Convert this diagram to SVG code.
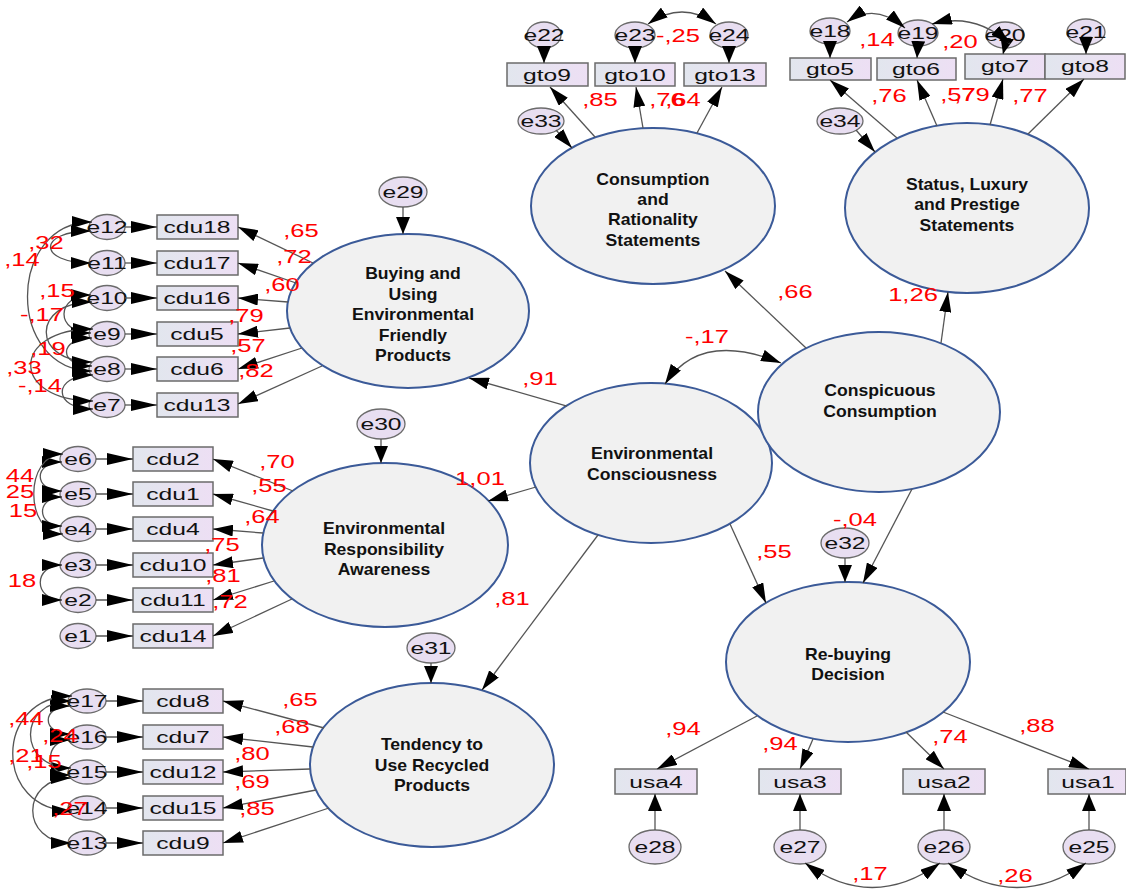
<svg xmlns="http://www.w3.org/2000/svg" width="1126" height="892" viewBox="0 0 1126 892">
<defs>
<linearGradient id="rg" x1="0" y1="0" x2="1" y2="0"><stop offset="0" stop-color="#e2e6ee"/><stop offset="1" stop-color="#eddff4"/></linearGradient>
<marker id="mh" markerUnits="userSpaceOnUse" viewBox="0 0 26 12" refX="26" refY="6" markerWidth="26" markerHeight="12" orient="auto-start-reverse"><path d="M0,0 L26,6 L0,12 z" fill="#000"/></marker>
<marker id="md" markerUnits="userSpaceOnUse" viewBox="0 0 20 12" refX="20" refY="6" markerWidth="20" markerHeight="12" orient="auto-start-reverse"><path d="M0,0 L20,6 L0,12 z" fill="#000"/></marker>
<marker id="mv" markerUnits="userSpaceOnUse" viewBox="0 0 17 14" refX="17" refY="7" markerWidth="17" markerHeight="14" orient="auto-start-reverse"><path d="M0,0 L17,7 L0,14 z" fill="#000"/></marker>
</defs>
<style>
.lat{fill:#f1f1f1;stroke:#3b5a98;stroke-width:2}
.obs{fill:url(#rg);stroke:#6b6b6b;stroke-width:1.5}
.err{fill:#e8def1;stroke:#6b6b6b;stroke-width:1.3}
.c{fill:none;stroke:#555;stroke-width:1.3}
.h{marker-end:url(#mh)}
.d{marker-end:url(#md)}
.v{marker-end:url(#mv)}
.bi{marker-start:url(#md);marker-end:url(#md)}
.t{font-family:"Liberation Sans",Arial,sans-serif;font-size:17px;fill:#111;text-anchor:middle;transform-box:fill-box;transform-origin:center;transform:scaleX(1.45)}
.r{font-family:"Liberation Sans",Arial,sans-serif;font-size:18px;fill:#ff0000;text-anchor:middle;transform-box:fill-box;transform-origin:center;transform:scaleX(1.42)}
.b{font-family:"Liberation Sans",Arial,sans-serif;font-size:16px;font-weight:bold;fill:#111;text-anchor:middle;transform-box:fill-box;transform-origin:center;transform:scaleX(1.1)}
</style>
<rect width="1126" height="892" fill="#fff"/>

<!-- latent variables -->
<g id="consumption-rationality"><ellipse class="lat" cx="653" cy="206" rx="122" ry="78"/><text class="b" x="653" y="185">Consumption</text><text class="b" x="653" y="205">and</text><text class="b" x="653" y="225">Rationality</text><text class="b" x="653" y="246">Statements</text></g>
<g id="status-luxury"><ellipse class="lat" cx="967" cy="208" rx="122" ry="85"/><text class="b" x="967" y="190">Status, Luxury</text><text class="b" x="967" y="210">and Prestige</text><text class="b" x="967" y="231">Statements</text></g>
<g id="buying-using"><ellipse class="lat" cx="408" cy="311" rx="121" ry="77"/><text class="b" x="413" y="279">Buying and</text><text class="b" x="413" y="300">Using</text><text class="b" x="413" y="320">Environmental</text><text class="b" x="413" y="341">Friendly</text><text class="b" x="413" y="361">Products</text></g>
<g id="env-consciousness"><ellipse class="lat" cx="651" cy="463" rx="121" ry="80"/><text class="b" x="652" y="459">Environmental</text><text class="b" x="652" y="480">Consciousness</text></g>
<g id="conspicuous"><ellipse class="lat" cx="879" cy="412" rx="121" ry="80"/><text class="b" x="880" y="396">Conspicuous</text><text class="b" x="880" y="417">Consumption</text></g>
<g id="env-responsibility"><ellipse class="lat" cx="385" cy="545" rx="123" ry="82"/><text class="b" x="384" y="534">Environmental</text><text class="b" x="384" y="555">Responsibility</text><text class="b" x="384" y="575">Awareness</text></g>
<g id="recycled"><ellipse class="lat" cx="432" cy="765" rx="122" ry="82"/><text class="b" x="432" y="750">Tendency to</text><text class="b" x="432" y="771">Use Recycled</text><text class="b" x="432" y="791">Products</text></g>
<g id="rebuying"><ellipse class="lat" cx="848" cy="662" rx="122" ry="80"/><text class="b" x="848" y="660">Re-buying</text><text class="b" x="848" y="680">Decision</text></g>

<!-- observed variables -->
<g id="gto9"><rect class="obs" x="507" y="63" width="81" height="23"/><text class="t" x="547" y="81">gto9</text></g>
<g id="gto10"><rect class="obs" x="595" y="63" width="80" height="23"/><text class="t" x="635" y="81">gto10</text></g>
<g id="gto13"><rect class="obs" x="684" y="63" width="82" height="23"/><text class="t" x="725" y="81">gto13</text></g>
<g id="gto5"><rect class="obs" x="790" y="58" width="81" height="22"/><text class="t" x="830" y="75">gto5</text></g>
<g id="gto6"><rect class="obs" x="877" y="58" width="79" height="22"/><text class="t" x="916" y="75">gto6</text></g>
<g id="gto7"><rect class="obs" x="965" y="54" width="80" height="25"/><text class="t" x="1005" y="72">gto7</text></g>
<g id="gto8"><rect class="obs" x="1045" y="54" width="80" height="25"/><text class="t" x="1085" y="72">gto8</text></g>

<g id="cdu18"><rect class="obs" x="157" y="215" width="81" height="24"/><text class="t" x="197" y="233">cdu18</text></g>
<g id="cdu17"><rect class="obs" x="157" y="251" width="81" height="24"/><text class="t" x="197" y="269">cdu17</text></g>
<g id="cdu16"><rect class="obs" x="157" y="286" width="81" height="24"/><text class="t" x="197" y="304">cdu16</text></g>
<g id="cdu5"><rect class="obs" x="157" y="322" width="81" height="24"/><text class="t" x="197" y="340">cdu5</text></g>
<g id="cdu6"><rect class="obs" x="157" y="357" width="81" height="24"/><text class="t" x="197" y="375">cdu6</text></g>
<g id="cdu13"><rect class="obs" x="157" y="393" width="81" height="24"/><text class="t" x="197" y="411">cdu13</text></g>

<g id="cdu2"><rect class="obs" x="133" y="447" width="80" height="24"/><text class="t" x="173" y="465">cdu2</text></g>
<g id="cdu1"><rect class="obs" x="133" y="482" width="80" height="24"/><text class="t" x="173" y="500">cdu1</text></g>
<g id="cdu4"><rect class="obs" x="133" y="517" width="80" height="24"/><text class="t" x="173" y="535">cdu4</text></g>
<g id="cdu10"><rect class="obs" x="133" y="553" width="80" height="24"/><text class="t" x="173" y="571">cdu10</text></g>
<g id="cdu11"><rect class="obs" x="133" y="588" width="80" height="24"/><text class="t" x="173" y="606">cdu11</text></g>
<g id="cdu14"><rect class="obs" x="133" y="624" width="80" height="24"/><text class="t" x="173" y="642">cdu14</text></g>

<g id="cdu8"><rect class="obs" x="143" y="689" width="80" height="24"/><text class="t" x="183" y="707">cdu8</text></g>
<g id="cdu7"><rect class="obs" x="143" y="725" width="80" height="24"/><text class="t" x="183" y="743">cdu7</text></g>
<g id="cdu12"><rect class="obs" x="143" y="760" width="80" height="24"/><text class="t" x="183" y="778">cdu12</text></g>
<g id="cdu15"><rect class="obs" x="143" y="796" width="80" height="24"/><text class="t" x="183" y="814">cdu15</text></g>
<g id="cdu9"><rect class="obs" x="143" y="831" width="80" height="24"/><text class="t" x="183" y="849">cdu9</text></g>

<g id="usa4"><rect class="obs" x="615" y="769" width="82" height="25"/><text class="t" x="656" y="788">usa4</text></g>
<g id="usa3"><rect class="obs" x="759" y="769" width="82" height="25"/><text class="t" x="800" y="788">usa3</text></g>
<g id="usa2"><rect class="obs" x="903" y="769" width="82" height="25"/><text class="t" x="944" y="788">usa2</text></g>
<g id="usa1"><rect class="obs" x="1048" y="769" width="78" height="25"/><text class="t" x="1088" y="788">usa1</text></g>

<!-- error terms -->
<g id="e22"><ellipse class="err" cx="544" cy="35" rx="17" ry="13"/><text class="t" x="544" y="41">e22</text></g>
<g id="e23"><ellipse class="err" cx="635" cy="35" rx="20" ry="13"/><text class="t" x="635" y="41">e23</text></g>
<g id="e24"><ellipse class="err" cx="729" cy="35" rx="19" ry="13"/><text class="t" x="729" y="41">e24</text></g>
<g id="e18"><ellipse class="err" cx="830" cy="31" rx="20" ry="13"/><text class="t" x="830" y="37">e18</text></g>
<g id="e19"><ellipse class="err" cx="918" cy="33" rx="20" ry="13"/><text class="t" x="918" y="39">e19</text></g>
<g id="e20"><ellipse class="err" cx="1005" cy="35" rx="19" ry="13"/><text class="t" x="1005" y="41">e20</text></g>
<g id="e21"><ellipse class="err" cx="1086" cy="32" rx="19" ry="13"/><text class="t" x="1086" y="38">e21</text></g>
<g id="e33"><ellipse class="err" cx="541" cy="121" rx="23" ry="13"/><text class="t" x="541" y="127">e33</text></g>
<g id="e34"><ellipse class="err" cx="840" cy="121" rx="23" ry="13"/><text class="t" x="840" y="127">e34</text></g>
<g id="e29"><ellipse class="err" cx="403" cy="192" rx="24" ry="15"/><text class="t" x="403" y="198">e29</text></g>
<g id="e30"><ellipse class="err" cx="381" cy="424" rx="24" ry="15"/><text class="t" x="381" y="430">e30</text></g>
<g id="e31"><ellipse class="err" cx="431" cy="648" rx="24" ry="15"/><text class="t" x="431" y="654">e31</text></g>
<g id="e32"><ellipse class="err" cx="845" cy="543" rx="24" ry="15"/><text class="t" x="845" y="549">e32</text></g>

<g id="e12"><ellipse class="err" cx="107" cy="227" rx="18" ry="12.5"/><text class="t" x="107" y="233">e12</text></g>
<g id="e11"><ellipse class="err" cx="107" cy="263" rx="18" ry="12.5"/><text class="t" x="107" y="269">e11</text></g>
<g id="e10"><ellipse class="err" cx="107" cy="298" rx="18" ry="12.5"/><text class="t" x="107" y="304">e10</text></g>
<g id="e9"><ellipse class="err" cx="107" cy="334" rx="18" ry="12.5"/><text class="t" x="107" y="340">e9</text></g>
<g id="e8"><ellipse class="err" cx="107" cy="369" rx="18" ry="12.5"/><text class="t" x="107" y="375">e8</text></g>
<g id="e7"><ellipse class="err" cx="107" cy="405" rx="18" ry="12.5"/><text class="t" x="107" y="411">e7</text></g>

<g id="e6"><ellipse class="err" cx="78" cy="459" rx="18" ry="12.5"/><text class="t" x="78" y="465">e6</text></g>
<g id="e5"><ellipse class="err" cx="78" cy="494" rx="18" ry="12.5"/><text class="t" x="78" y="500">e5</text></g>
<g id="e4"><ellipse class="err" cx="78" cy="529" rx="18" ry="12.5"/><text class="t" x="78" y="535">e4</text></g>
<g id="e3"><ellipse class="err" cx="78" cy="565" rx="18" ry="12.5"/><text class="t" x="78" y="571">e3</text></g>
<g id="e2"><ellipse class="err" cx="78" cy="600" rx="18" ry="12.5"/><text class="t" x="78" y="606">e2</text></g>
<g id="e1"><ellipse class="err" cx="78" cy="636" rx="18" ry="12.5"/><text class="t" x="78" y="642">e1</text></g>

<g id="e17"><ellipse class="err" cx="87" cy="701" rx="19" ry="12"/><text class="t" x="87" y="707">e17</text></g>
<g id="e16"><ellipse class="err" cx="87" cy="737" rx="19" ry="12"/><text class="t" x="87" y="743">e16</text></g>
<g id="e15"><ellipse class="err" cx="87" cy="772" rx="19" ry="12"/><text class="t" x="87" y="778">e15</text></g>
<g id="e14"><ellipse class="err" cx="87" cy="808" rx="19" ry="12"/><text class="t" x="87" y="814">e14</text></g>
<g id="e13"><ellipse class="err" cx="87" cy="843" rx="19" ry="12"/><text class="t" x="87" y="849">e13</text></g>

<g id="e28"><ellipse class="err" cx="655" cy="847" rx="26" ry="17"/><text class="t" x="655" y="853">e28</text></g>
<g id="e27"><ellipse class="err" cx="800" cy="847" rx="26" ry="17"/><text class="t" x="800" y="853">e27</text></g>
<g id="e26"><ellipse class="err" cx="944" cy="847" rx="26" ry="17"/><text class="t" x="944" y="853">e26</text></g>
<g id="e25"><ellipse class="err" cx="1089" cy="847" rx="26" ry="17"/><text class="t" x="1089" y="853">e25</text></g>

<!-- connectors -->
<g id="connectors">
<path class="c d" d="M595,137 L550,87"/>
<path class="c d" d="M643,128 L636,87"/>
<path class="c d" d="M697,133 L722,87"/>
<path class="c d" d="M897,138 L830,80"/>
<path class="c d" d="M937,126 L917,80"/>
<path class="c d" d="M990,125 L1003,79"/>
<path class="c d" d="M1028,134 L1084,79"/>
<path class="c d" d="M556,130 L572,148"/>
<path class="c d" d="M856,130 L875,152"/>
<path class="c v" d="M544,46 L544,63"/>
<path class="c v" d="M635,46 L635,63"/>
<path class="c v" d="M729,46 L729,63"/>
<path class="c v" d="M830,42 L830,58"/>
<path class="c v" d="M918,44 L917,58"/>
<path class="c v" d="M1005,46 L1003,54"/>
<path class="c v" d="M1086,43 L1086,54"/>
<path class="c bi" d="M648,24 Q682,0 716,24"/>
<path class="c bi" d="M847,22 Q875,2 905,28"/>
<path class="c bi" d="M932,24 Q975,12 1010,44"/>

<path class="c d" d="M806,348 L725,271"/>
<path class="c d" d="M941,343 L948,292"/>
<path class="c d" d="M567,406 L469,378"/>
<path class="c d" d="M536,487 L488,501"/>
<path class="c d" d="M598,535 L482,690"/>
<path class="c d" d="M730,524 L766,603"/>
<path class="c d" d="M912,489 L863,583"/>
<path class="c bi" d="M665,384 Q700,330 781,363"/>
<path class="c v" d="M845,558 L845,582"/>
<path class="c v" d="M403,207 L403,234"/>
<path class="c v" d="M381,439 L381,463"/>
<path class="c v" d="M431,663 L431,683"/>

<path class="c d" d="M313,263 L238,227"/>
<path class="c d" d="M296,283 L238,263"/>
<path class="c d" d="M288,302 L238,298"/>
<path class="c d" d="M290,328 L238,334"/>
<path class="c d" d="M302,348 L238,369"/>
<path class="c d" d="M322,366 L238,404"/>
<path class="c h" d="M125,227 L157,227"/>
<path class="c h" d="M125,263 L157,263"/>
<path class="c h" d="M125,298 L157,298"/>
<path class="c h" d="M125,334 L157,334"/>
<path class="c h" d="M125,369 L157,369"/>
<path class="c h" d="M125,405 L157,405"/>
<path class="c bi" d="M91,231 C37,231 37,263 91,263"/>
<path class="c bi" d="M92,222 C6,222 6,371 92,371"/>
<path class="c bi" d="M91,295 C55,295 55,333 91,333"/>
<path class="c bi" d="M92,302 C31,302 31,362 92,362"/>
<path class="c bi" d="M92,338 C58,338 58,366 92,366"/>
<path class="c bi" d="M93,329 C10,329 10,401 93,401"/>
<path class="c bi" d="M93,375 C52,375 52,409 93,409"/>

<path class="c d" d="M293,491 L213,459"/>
<path class="c d" d="M273,511 L213,494"/>
<path class="c d" d="M263,533 L213,529"/>
<path class="c d" d="M263,558 L213,565"/>
<path class="c d" d="M274,581 L213,600"/>
<path class="c d" d="M292,599 L213,636"/>
<path class="c h" d="M96,459 L133,459"/>
<path class="c h" d="M96,494 L133,494"/>
<path class="c h" d="M96,529 L133,529"/>
<path class="c h" d="M96,565 L133,565"/>
<path class="c h" d="M96,600 L133,600"/>
<path class="c h" d="M96,636 L133,636"/>
<path class="c bi" d="M62,462 C33,462 33,491 62,491"/>
<path class="c bi" d="M63,454 C24,454 24,534 63,534"/>
<path class="c bi" d="M62,497 C36,497 36,526 62,526"/>
<path class="c bi" d="M62,565 C33,565 33,600 62,600"/>

<path class="c d" d="M324,728 L223,701"/>
<path class="c d" d="M313,747 L223,737"/>
<path class="c d" d="M310,769 L223,772"/>
<path class="c d" d="M316,790 L223,808"/>
<path class="c d" d="M329,808 L223,843"/>
<path class="c h" d="M106,701 L143,701"/>
<path class="c h" d="M106,737 L143,737"/>
<path class="c h" d="M106,772 L143,772"/>
<path class="c h" d="M106,808 L143,808"/>
<path class="c h" d="M106,843 L143,843"/>
<path class="c bi" d="M70,706 C41,706 41,734 70,734"/>
<path class="c bi" d="M71,701 C17,701 17,768 71,768"/>
<path class="c bi" d="M72,696 C-7,696 -7,811 72,811"/>
<path class="c bi" d="M70,740 C44,740 44,775 70,775"/>
<path class="c bi" d="M71,778 C20,778 20,843 71,843"/>

<path class="c d" d="M757,716 L657,769"/>
<path class="c d" d="M813,739 L800,769"/>
<path class="c d" d="M906,732 L944,769"/>
<path class="c d" d="M943,712 L1089,769"/>
<path class="c v" d="M655,830 L655,794"/>
<path class="c v" d="M800,830 L800,794"/>
<path class="c v" d="M944,830 L944,794"/>
<path class="c v" d="M1089,830 L1089,794"/>
<path class="c bi" d="M805,863 Q872,912 940,863"/>
<path class="c bi" d="M948,863 Q1017,912 1086,863"/>
</g>

<!-- estimates -->
<g id="estimates">
<text class="r" x="600" y="106">,85</text>
<text class="r" x="667" y="106">,76</text>
<text class="r" x="683" y="106">,64</text>
<text class="r" x="678" y="42">-,25</text>
<text class="r" x="877" y="46">,14</text>
<text class="r" x="960" y="48">,20</text>
<text class="r" x="889" y="102">,76</text>
<text class="r" x="958" y="101">,57</text>
<text class="r" x="972" y="101">,79</text>
<text class="r" x="1030" y="102">,77</text>
<text class="r" x="795" y="298">,66</text>
<text class="r" x="913" y="301">1,26</text>
<text class="r" x="707" y="343">-,17</text>
<text class="r" x="540" y="385">,91</text>
<text class="r" x="480" y="485">1,01</text>
<text class="r" x="512" y="605">,81</text>
<text class="r" x="774" y="558">,55</text>
<text class="r" x="855" y="526">-,04</text>
<text class="r" x="301" y="237">,65</text>
<text class="r" x="294" y="263">,72</text>
<text class="r" x="282" y="291">,60</text>
<text class="r" x="246" y="322">,79</text>
<text class="r" x="248" y="352">,57</text>
<text class="r" x="256" y="377">,82</text>
<text class="r" x="46" y="249">,32</text>
<text class="r" x="22" y="266">,14</text>
<text class="r" x="57" y="297">,15</text>
<text class="r" x="42" y="321">-,17</text>
<text class="r" x="48" y="355">,19</text>
<text class="r" x="24" y="374">,33</text>
<text class="r" x="40" y="392">-,14</text>
<text class="r" x="277" y="468">,70</text>
<text class="r" x="269" y="492">,55</text>
<text class="r" x="262" y="523">,64</text>
<text class="r" x="222" y="551">,75</text>
<text class="r" x="223" y="582">,81</text>
<text class="r" x="230" y="608">,72</text>
<text class="r" x="20" y="482">44</text>
<text class="r" x="20" y="498">25</text>
<text class="r" x="23" y="517">15</text>
<text class="r" x="22" y="587">18</text>
<text class="r" x="300" y="706">,65</text>
<text class="r" x="292" y="733">,68</text>
<text class="r" x="252" y="760">,80</text>
<text class="r" x="252" y="788">,69</text>
<text class="r" x="257" y="815">,85</text>
<text class="r" x="26" y="725">,44</text>
<text class="r" x="60" y="742">,24</text>
<text class="r" x="26" y="762">,21</text>
<text class="r" x="44" y="768">,15</text>
<text class="r" x="70" y="815">,27</text>
<text class="r" x="683" y="735">,94</text>
<text class="r" x="780" y="750">,94</text>
<text class="r" x="950" y="743">,74</text>
<text class="r" x="1037" y="732">,88</text>
<text class="r" x="870" y="880">,17</text>
<text class="r" x="1015" y="882">,26</text>
</g>
</svg>
